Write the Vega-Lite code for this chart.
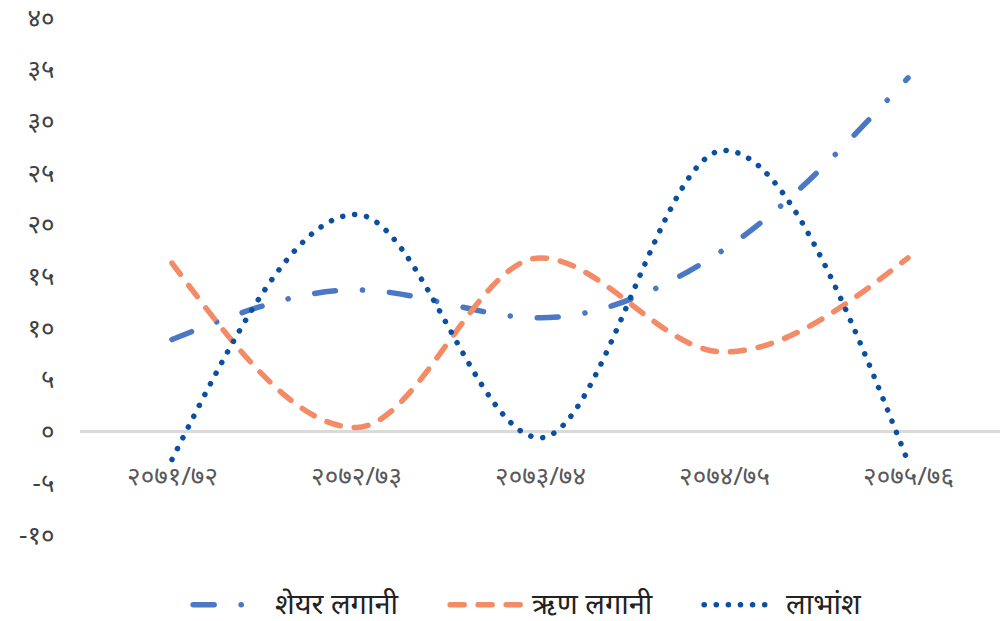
{
  "$schema": "https://vega.github.io/schema/vega-lite/v6.json",
  "width": 920,
  "height": 517,
  "autosize": {"type": "none"},
  "padding": {"left": 80, "top": 18, "right": 2, "bottom": 86},
  "background": "white",
  "config": {
    "view": {"stroke": null},
    "font": "Noto Sans",
    "axis": {"labelFont": "Noto Sans", "labelColor": "#595959", "labelFontSize": 26}
  },
  "data": {
    "values": [
      {"year": "२०७१/७२", "series": "शेयर लगानी", "value": 8.9},
      {"year": "२०७२/७३", "series": "शेयर लगानी", "value": 13.7},
      {"year": "२०७३/७४", "series": "शेयर लगानी", "value": 11.0},
      {"year": "२०७४/७५", "series": "शेयर लगानी", "value": 17.6},
      {"year": "२०७५/७६", "series": "शेयर लगानी", "value": 34.2},
      {"year": "२०७१/७२", "series": "ऋण लगानी", "value": 16.3},
      {"year": "२०७२/७३", "series": "ऋण लगानी", "value": 0.4},
      {"year": "२०७३/७४", "series": "ऋण लगानी", "value": 16.8},
      {"year": "२०७४/७५", "series": "ऋण लगानी", "value": 7.7},
      {"year": "२०७५/७६", "series": "ऋण लगानी", "value": 16.8},
      {"year": "२०७१/७२", "series": "लाभांश", "value": -2.7},
      {"year": "२०७२/७३", "series": "लाभांश", "value": 21.0},
      {"year": "२०७३/७४", "series": "लाभांश", "value": -0.6},
      {"year": "२०७४/७५", "series": "लाभांश", "value": 27.2},
      {"year": "२०७५/७६", "series": "लाभांश", "value": -2.9}
    ]
  },
  "layer": [
    {
      "mark": {"type": "rule", "color": "#d9d9d9", "strokeWidth": 2},
      "encoding": {"y": {"datum": 0, "type": "quantitative", "scale": {"domain": [-10, 40]}}}
    },
    {
      "mark": {"type": "line", "interpolate": "monotone", "strokeWidth": 5.5, "strokeCap": "round"},
      "encoding": {
        "x": {
          "field": "year", "type": "ordinal", "sort": null,
          "scale": {"type": "point", "padding": 0.5},
          "axis": {"title": null, "orient": "bottom", "offset": -74, "domain": false, "ticks": false, "labelPadding": 2, "labelAngle": 0}
        },
        "y": {
          "field": "value", "type": "quantitative",
          "scale": {"domain": [-10, 40], "nice": false, "zero": false},
          "axis": {
            "title": null, "values": [-10, -5, 0, 5, 10, 15, 20, 25, 30, 35, 40],
            "grid": false, "domain": false, "ticks": false, "labelPadding": 26, "labelColor": "#404040",
            "labelExpr": "replace(replace(replace(replace(replace(replace(toString(datum.value), '0', '०'), '1', '१'), '2', '२'), '3', '३'), '4', '४'), '5', '५')"
          }
        },
        "color": {
          "field": "series", "type": "nominal",
          "scale": {"domain": ["शेयर लगानी", "ऋण लगानी", "लाभांश"], "range": ["#4a78c4", "#f28b66", "#0b4fa0"]},
          "legend": {
            "title": null, "orient": "none", "direction": "horizontal",
            "legendX": 110, "legendY": 548,
            "symbolType": "stroke", "symbolSize": 5000, "symbolStrokeWidth": 5.5,
            "labelFontSize": 29, "labelColor": "#222222", "labelFont": "Noto Sans",
            "labelOffset": 8, "columnPadding": 40,
            "encode": {"symbols": {"update": {
              "stroke": {"scale": "color", "field": "value"},
              "strokeDash": {"scale": "strokeDash", "field": "value"},
              "strokeWidth": {"value": 5.5},
              "strokeCap": {"value": "round"},
              "fill": {"value": "transparent"},
              "opacity": {"value": 1}
            }}}
          }
        },
        "strokeDash": {
          "field": "series", "type": "nominal",
          "scale": {"domain": ["शेयर लगानी", "ऋण लगानी", "लाभांश"], "range": [[21, 27, 0.1, 27], [14, 14], [0.1, 12]]},
          "legend": null
        }
      }
    }
  ]
}
